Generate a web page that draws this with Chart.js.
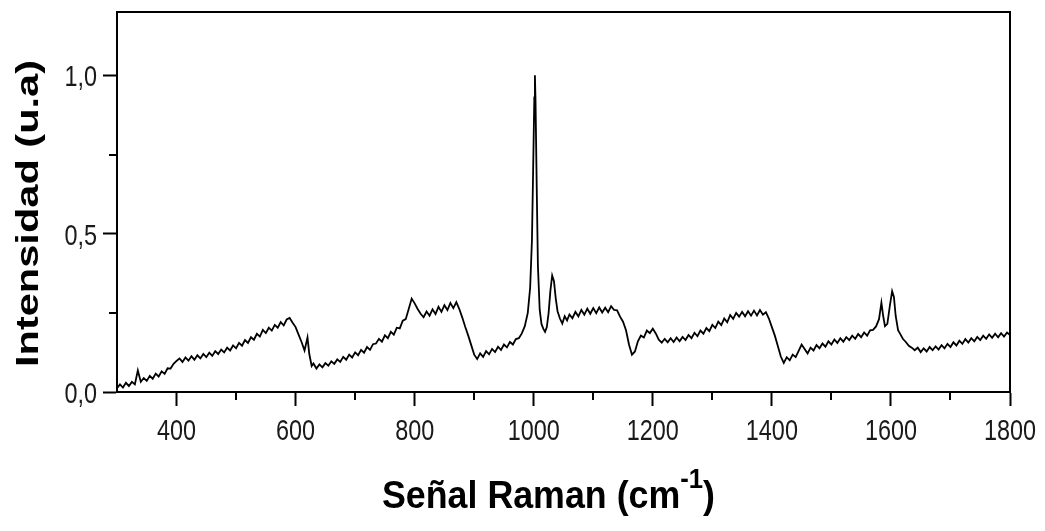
<!DOCTYPE html>
<html>
<head>
<meta charset="utf-8">
<script src="https://cdn.jsdelivr.net/npm/chart.js@4/dist/chart.umd.min.js"></script>
<style>
  html, body { margin: 0; padding: 0; background: #fff; }
  #wrap { width: 1045px; height: 531px; position: relative; }
</style>
</head>
<body>
<div id="wrap"><canvas id="raman-chart"></canvas></div>
<script>
// Raman shift (cm-1) and intensity (u.a)
const ramanShift = [
  300,305,310,315,320,325,330,335,340,345,350,355,360,365,370,375,380,385,390,395,
  400,405,410,415,420,425,430,435,440,445,450,455,460,465,470,475,480,485,490,495,
  500,505,510,515,520,525,530,535,540,545,550,555,560,565,570,575,580,585,590,595,
  600,605,610,615,620,623,627,630,635,640,645,650,655,660,665,670,675,680,685,690,695,
  700,705,710,715,720,725,730,735,740,745,750,755,760,765,770,775,780,785,790,795,
  800,805,810,815,820,825,830,835,840,845,850,855,860,865,870,875,880,885,890,895,
  900,905,910,915,920,925,930,935,940,945,950,955,960,965,970,975,980,985,990,994,997,999,
  1001,1002,1003,1005,1007,1010,1013,1016,1019,1022,1025,1028,1031,1034,1037,1040,1044,1048,
  1052,1056,1060,1065,1070,1075,1080,1085,1090,1095,
  1100,1105,1110,1115,1120,1125,1130,1135,1140,1145,1150,1155,1160,1165,1170,1175,1180,1185,1190,1195,
  1200,1205,1210,1215,1220,1225,1230,1235,1240,1245,1250,1255,1260,1265,1270,1275,1280,1285,1290,1295,
  1300,1305,1310,1315,1320,1325,1330,1335,1340,1345,1350,1355,1360,1365,1370,1375,1380,1385,1390,1395,
  1400,1405,1410,1415,1420,1425,1430,1435,1440,1445,1450,1455,1460,1465,1470,1475,1480,1485,1490,1495,
  1500,1505,1510,1515,1520,1525,1530,1535,1540,1545,1550,1555,1560,1565,1570,1575,1580,1584,1587,1590,1594,1598,
  1602,1605,1608,1612,1616,1620,1625,1630,1635,1640,1645,1650,1655,1660,1665,1670,1675,1680,1685,1690,1695,
  1700,1705,1710,1715,1720,1725,1730,1735,1740,1745,1750,1755,1760,1765,1770,1775,1780,1785,1790,1795,1800
];
const intensity = [
  0.012,0.024,0.014,0.029,0.019,0.032,0.024,0.068,0.032,0.044,0.035,0.051,0.042,0.058,0.049,0.065,0.057,0.075,0.074,0.089,
  0.098,0.106,0.095,0.109,0.099,0.113,0.102,0.116,0.106,0.120,0.110,0.124,0.114,0.129,0.120,0.134,0.125,0.140,0.131,0.147,
  0.138,0.155,0.146,0.164,0.155,0.173,0.165,0.184,0.175,0.196,0.186,0.203,0.194,0.212,0.203,0.221,0.210,0.229,0.234,0.219,
  0.205,0.181,0.158,0.131,0.172,0.120,0.082,0.090,0.074,0.087,0.078,0.091,0.083,0.097,0.089,0.103,0.095,0.111,0.102,0.118,0.109,
  0.125,0.116,0.133,0.124,0.142,0.133,0.151,0.153,0.168,0.159,0.179,0.170,0.190,0.181,0.203,0.201,0.225,0.230,0.262,0.295,
  0.280,0.262,0.247,0.236,0.254,0.241,0.261,0.246,0.269,0.253,0.274,0.259,0.281,0.265,0.284,0.262,0.235,0.205,0.178,0.148,
  0.118,0.104,0.122,0.111,0.129,0.119,0.136,0.126,0.143,0.133,0.150,0.141,0.158,0.150,0.167,0.170,0.185,0.208,0.250,0.330,0.480,0.700,
  0.930,1.000,0.920,0.650,0.400,0.260,0.215,0.200,0.190,0.205,0.250,0.320,0.368,0.350,0.295,0.255,0.232,0.216,
  0.239,0.226,0.245,0.233,0.253,0.239,0.259,0.244,0.263,0.247,
  0.265,0.249,0.267,0.251,0.266,0.252,0.271,0.259,0.258,0.238,0.222,0.195,0.150,0.118,0.128,0.160,0.178,0.172,0.194,0.186,
  0.200,0.185,0.165,0.156,0.168,0.157,0.170,0.158,0.172,0.160,0.174,0.164,0.180,0.170,0.187,0.176,0.194,0.184,0.202,0.192,
  0.212,0.202,0.222,0.211,0.232,0.220,0.243,0.231,0.250,0.238,0.253,0.239,0.255,0.241,0.257,0.242,0.259,0.244,0.252,0.232,
  0.205,0.178,0.145,0.112,0.092,0.110,0.100,0.118,0.110,0.130,0.150,0.136,0.122,0.140,0.131,0.148,0.138,0.153,0.143,0.160,
  0.150,0.166,0.155,0.170,0.159,0.173,0.164,0.178,0.168,0.183,0.173,0.188,0.178,0.195,0.196,0.207,0.230,0.282,0.240,0.208,0.215,0.270,
  0.318,0.300,0.240,0.195,0.182,0.168,0.158,0.146,0.140,0.132,0.140,0.126,0.138,0.128,0.142,0.132,0.144,0.134,0.148,0.138,0.152,
  0.142,0.157,0.147,0.162,0.152,0.167,0.156,0.170,0.160,0.174,0.164,0.178,0.168,0.182,0.171,0.184,0.173,0.186,0.175,0.188,0.180
];

const xMin = 300, xMax = 1800;
const yMin = 0, yMax = 1.2;
const xTitle = "Señal Raman (cm";
const xTitleSup = "-1";
const yTitle = "Intensidad (u.a)";

const fontFamily = '"Liberation Sans", Arial, sans-serif';

function isMajorX(v) { return v % 200 === 0 && v > xMin; }
function isMajorY(v) { return Math.abs(v * 2 - Math.round(v * 2)) < 1e-6; }
function yLabel(v) { return v.toFixed(1).replace('.', ','); }

// frame, minor ticks, tick labels (narrowed) and the two axis titles
const decorations = {
  id: 'decorations',
  afterDraw(chart) {
    const ctx = chart.ctx;
    const a = chart.chartArea;
    const xs = chart.scales.x, ys = chart.scales.y;
    ctx.save();
    ctx.strokeStyle = '#000';
    ctx.lineWidth = 2;
    ctx.strokeRect(a.left, a.top, a.right - a.left, a.bottom - a.top);

    // minor ticks
    ctx.beginPath();
    xs.ticks.forEach(t => {
      if (!isMajorX(t.value) && t.value > xMin && t.value < xMax) {
        const px = Math.round(xs.getPixelForValue(t.value));
        ctx.moveTo(px, a.bottom);
        ctx.lineTo(px, a.bottom + 8);
      }
    });
    ys.ticks.forEach(t => {
      if (!isMajorY(t.value) && t.value < yMax) {
        const py = Math.round(ys.getPixelForValue(t.value));
        ctx.moveTo(a.left, py);
        ctx.lineTo(a.left - 8, py);
      }
    });
    ctx.stroke();

    // tick labels, horizontally condensed like the original
    ctx.fillStyle = '#1a1a1a';
    ctx.font = '30px ' + fontFamily;
    ctx.textBaseline = 'alphabetic';
    const squeeze = 0.78;
    xs.ticks.forEach(t => {
      if (!isMajorX(t.value)) return;
      const px = xs.getPixelForValue(t.value);
      const s = String(t.value);
      const w = ctx.measureText(s).width * squeeze;
      ctx.save();
      ctx.translate(px - w / 2, a.bottom + 48);
      ctx.scale(squeeze, 1);
      ctx.fillText(s, 0, 0);
      ctx.restore();
    });
    ys.ticks.forEach(t => {
      if (!isMajorY(t.value)) return;
      const py = ys.getPixelForValue(t.value);
      const s = yLabel(t.value);
      const w = ctx.measureText(s).width * squeeze;
      ctx.save();
      ctx.translate(a.left - 20 - w, py + 11);
      ctx.scale(squeeze, 1);
      ctx.fillText(s, 0, 0);
      ctx.restore();
    });

    // x title with superscript
    ctx.fillStyle = '#000';
    ctx.font = 'bold 39px ' + fontFamily;
    const w1 = ctx.measureText(xTitle).width;
    const w3 = ctx.measureText(')').width;
    ctx.font = 'bold 28px ' + fontFamily;
    const w2 = ctx.measureText(xTitleSup).width;
    const sx = 333 / (w1 + w2 + w3);
    ctx.save();
    ctx.translate(382, 508);
    ctx.scale(sx, 1);
    ctx.font = 'bold 39px ' + fontFamily;
    ctx.fillText(xTitle, 0, 0);
    ctx.font = 'bold 28px ' + fontFamily;
    ctx.fillText(xTitleSup, w1, -20);
    ctx.font = 'bold 39px ' + fontFamily;
    ctx.fillText(')', w1 + w2, 0);
    ctx.restore();

    // y title, rotated
    ctx.save();
    ctx.font = 'bold 32px ' + fontFamily;
    const wy = ctx.measureText(yTitle).width;
    ctx.translate(38, 367);
    ctx.rotate(-Math.PI / 2);
    ctx.scale(307 / wy, 1);
    ctx.fillText(yTitle, 0, 0);
    ctx.restore();

    ctx.restore();
  }
};

const points = ramanShift.map((x, i) => ({ x: x, y: intensity[i] }));

new Chart(document.getElementById('raman-chart').getContext('2d'), {
  type: 'line',
  data: {
    datasets: [{
      data: points,
      borderColor: '#000',
      borderWidth: 1.8,
      pointRadius: 0,
      tension: 0,
      fill: false
    }]
  },
  options: {
    responsive: true,
    maintainAspectRatio: false,
    animation: false,
    events: [],
    layout: { padding: { top: 12, right: 35, left: 0, bottom: 0 } },
    plugins: { legend: { display: false }, tooltip: { enabled: false } },
    scales: {
      x: {
        type: 'linear',
        min: xMin,
        max: xMax,
        afterFit: s => { s.height = 139; },
        border: { color: '#000', width: 2 },
        grid: {
          drawOnChartArea: false,
          drawTicks: true,
          tickLength: 14,
          tickWidth: 2,
          tickColor: c => (c.tick && isMajorX(c.tick.value)) ? '#000' : 'rgba(0,0,0,0)'
        },
        ticks: { stepSize: 100, autoSkip: false, display: false }
      },
      y: {
        min: yMin,
        max: yMax,
        afterFit: s => { s.width = 117; },
        border: { color: '#000', width: 2 },
        grid: {
          drawOnChartArea: false,
          drawTicks: true,
          tickLength: 14,
          tickWidth: 2,
          tickColor: c => (c.tick && isMajorY(c.tick.value)) ? '#000' : 'rgba(0,0,0,0)'
        },
        ticks: { stepSize: 0.25, autoSkip: false, display: false }
      }
    }
  },
  plugins: [decorations]
});
</script>
</body>
</html>
